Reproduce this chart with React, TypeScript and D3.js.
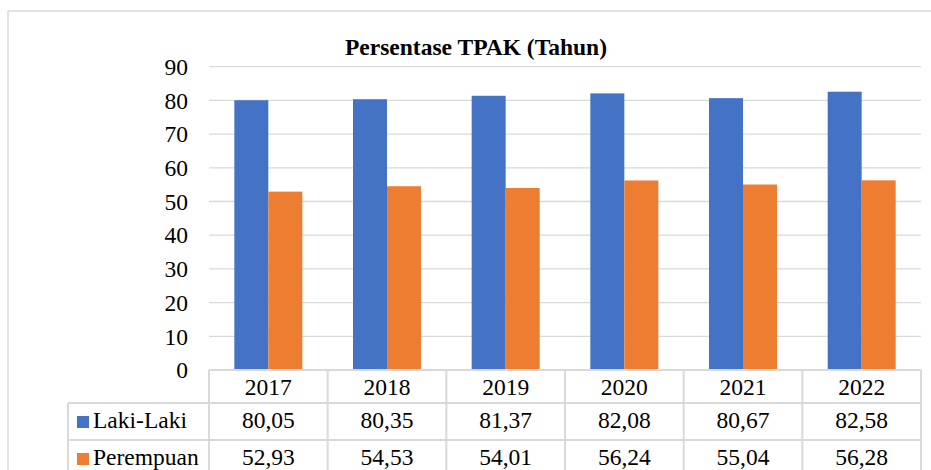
import React from 'react';
import * as d3 from 'd3';

const years = ['2017', '2018', '2019', '2020', '2021', '2022'];
const lakiLaki = [80.05, 80.35, 81.37, 82.08, 80.67, 82.58];
const perempuan = [52.93, 54.53, 54.01, 56.24, 55.04, 56.28];
const seriesNames = ['Laki-Laki', 'Perempuan'];
const seriesColors = ['#4472C4', '#ED7D31'];
const yTicks = [0, 10, 20, 30, 40, 50, 60, 70, 80, 90];

const fmt = (v: number) => v.toFixed(2).replace('.', ',');

export default function App() {
  const width = 931;
  const height = 470;
  const plot = { left: 209, right: 921, top: 66.7, bottom: 370 };
  const txt = { fontFamily: '"Liberation Serif", "Times New Roman", Tinos, serif' } as React.CSSProperties;
  const grid = '#d9d9d9';

  const x = d3.scaleBand().domain(years).range([plot.left, plot.right]).padding(0);
  const x1 = d3.scaleBand().domain(seriesNames).range([0, x.bandwidth()]).paddingInner(0).paddingOuter(0.745);
  const y = d3.scaleLinear().domain([0, 90]).range([plot.bottom, plot.top]);

  const series = [lakiLaki, perempuan];
  const rows = [370, 403, 440, 478];
  const tableLeft = 68;

  return (
    <svg width={width} height={height} style={{ position: 'absolute', left: 0, top: 0, background: '#fff', ...txt }}>
      <style>{`text { font-family: "Liberation Serif", "Times New Roman", Tinos, serif; }`}</style>
      {/* chart border */}
      <rect x={8} y={11} width={940} height={480} fill="none" stroke={grid} strokeWidth={1.5} />

      <text x={476} y={55} textAnchor="middle" fontSize={23.5} fontWeight="bold" style={txt}>
        Persentase TPAK (Tahun)
      </text>

      {/* gridlines */}
      {yTicks.filter(t => t > 0).map(t => (
        <line key={t} x1={plot.left} x2={plot.right} y1={y(t)} y2={y(t)} stroke={grid} strokeWidth={1.3} />
      ))}
      {yTicks.map(t => (
        <text key={t} x={188} y={y(t)} dy="0.35em" textAnchor="end" fontSize={23.5} style={txt}>
          {t}
        </text>
      ))}

      {/* bars */}
      {years.map((yr, i) => (
        <g key={yr} transform={`translate(${x(yr)},0)`}>
          {seriesNames.map((s, j) => (
            <rect key={s} x={x1(s)} width={x1.bandwidth()} y={y(series[j][i])}
              height={y(0) - y(series[j][i])} fill={seriesColors[j]} />
          ))}
        </g>
      ))}

      {/* data table */}
      <g stroke={grid} strokeWidth={2} fill="none">
        <line x1={plot.left} x2={plot.right} y1={rows[0]} y2={rows[0]} />
        <line x1={tableLeft} x2={plot.right} y1={rows[1]} y2={rows[1]} />
        <line x1={tableLeft} x2={plot.right} y1={rows[2]} y2={rows[2]} />
        <line x1={tableLeft} x2={tableLeft} y1={rows[1]} y2={rows[3]} />
        {years.map(yr => (
          <line key={yr} x1={x(yr)} x2={x(yr)} y1={rows[0]} y2={rows[3]} />
        ))}
        <line x1={plot.right} x2={plot.right} y1={rows[0]} y2={rows[3]} />
      </g>

      {years.map(yr => (
        <text key={yr} x={x(yr)! + x.bandwidth() / 2} y={395} textAnchor="middle"
          fontSize={23.5} style={txt}>{yr}</text>
      ))}

      {seriesNames.map((s, j) => {
        const base = j === 0 ? 428 : 465;
        return (
          <g key={s}>
            <rect x={77} y={base - 12} width={12} height={12} fill={seriesColors[j]} />
            <text x={93} y={base} fontSize={23.5} style={txt}>{s}</text>
            {years.map((yr, i) => (
              <text key={yr} x={x(yr)! + x.bandwidth() / 2} y={base} textAnchor="middle"
                fontSize={23.5} style={txt}>{fmt(series[j][i])}</text>
            ))}
          </g>
        );
      })}
    </svg>
  );
}
